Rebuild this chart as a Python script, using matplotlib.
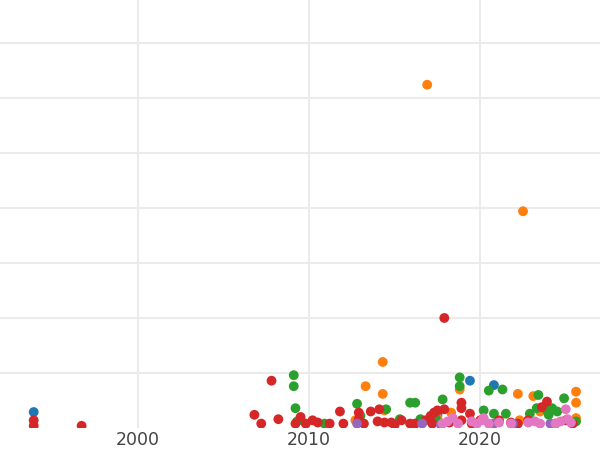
import matplotlib
matplotlib.use("Agg")
import matplotlib.pyplot as plt

# years / values, one pair of lists per colour group
blue_x = [1993.9, 2017.5, 2019.4, 2020.8]
blue_y = [14.5, 12, 43, 39]

orange_x = [2016.9, 2022.5, 2014.3, 2013.3, 2014.3, 2022.2, 2023.1, 2025.6, 2025.6, 2025.6,
            2018.8, 2018.3, 2014.4, 2023.5, 2012.7, 2017.5, 2022.3]
orange_y = [312, 197, 60, 38, 31, 31, 29, 33, 23, 9,
            35, 14, 16, 15, 7, 9, 7]

green_x = [2009.1, 2009.1, 2009.2, 2009.3, 2012.8, 2014.5, 2015.9, 2016.2, 2017.8, 2018.8,
           2018.8, 2020.5, 2021.3, 2020.2, 2020.8, 2021.5, 2023.4, 2023.3, 2024.9, 2022.9,
           2023.9, 2024.2, 2024.5, 2024.0, 2016.5, 2015.3, 2017.4, 2025.6, 2010.9, 2013.0]
green_y = [48, 38, 18, 6, 22, 17, 23, 23, 26, 46,
           38, 34, 35, 16, 13, 13, 30, 18, 27, 13,
           16, 18, 15, 12, 8, 8, 9, 6, 4, 11]

red_x = [1993.9, 1993.9, 1996.7, 2007.8, 2017.9, 2006.8, 2007.2, 2008.2, 2009.2, 2009.5,
         2009.8, 2010.2, 2010.5, 2011.2, 2011.8, 2012.0, 2012.9, 2012.9, 2013.2, 2013.6,
         2014.1, 2014.0, 2014.4, 2014.8, 2015.0, 2015.4, 2015.9, 2016.2, 2016.8, 2017.1,
         2017.3, 2017.5, 2017.9, 2018.9, 2018.9, 2018.9, 2019.4, 2019.5, 2020.0, 2021.1,
         2021.8, 2022.2, 2022.8, 2023.9, 2023.6, 2024.4, 2025.0, 2025.4, 2018.2, 2017.2]
red_y = [7, 2, 2, 43, 100, 12, 4, 8, 4, 10,
         4, 7, 5, 4, 15, 4, 14, 8, 4, 15,
         17, 6, 5, 5, 3, 7, 4, 4, 7, 11,
         14, 16, 17, 23, 18, 7, 13, 4, 7, 7,
         5, 4, 7, 24, 19, 4, 7, 4, 5, 4]

purple_x = [2012.8, 2016.6, 2020.8, 2021.9, 2024.1, 2017.7]
purple_y = [4, 4, 4, 4, 4, 3]

pink_x = [2025.0, 2025.1, 2017.8, 2018.1, 2018.4, 2018.7, 2019.5, 2019.8, 2020.1, 2020.2,
          2020.5, 2021.1, 2021.8, 2022.8, 2023.2, 2023.5, 2024.4, 2024.7, 2025.3]
pink_y = [17, 8, 4, 6, 9, 4, 6, 4, 7, 9,
          4, 5, 4, 5, 6, 4, 4, 6, 5]

groups = [
    (blue_x, blue_y, '#1f77b4'),
    (orange_x, orange_y, '#ff7f0e'),
    (green_x, green_y, '#2ca02c'),
    (red_x, red_y, '#d62728'),
    (purple_x, purple_y, '#9467bd'),
    (pink_x, pink_y, '#e377c2'),
]

fig = plt.figure(figsize=(6, 4.5), dpi=100)
ax = fig.add_axes([0, 22 / 450, 1, 428 / 450])

for xs, ys, color in groups:
    ax.scatter(xs, ys, s=50, color=color, edgecolors='none', zorder=3)

ax.set_xlim(1991.93, 2027.0)
ax.set_ylim(0, 389)
ax.set_xticks([2000, 2010, 2020])
ax.set_yticks([50, 100, 150, 200, 250, 300, 350])
ax.set_yticklabels([])
ax.tick_params(axis='both', length=0)
ax.tick_params(axis='x', labelsize=12.5, labelcolor='#444444', pad=2.5)
ax.grid(True, color='#ebebeb', linewidth=1.5, zorder=0)
ax.set_axisbelow(True)
for side in ax.spines.values():
    side.set_visible(False)

fig.savefig('out.png', dpi=100)
